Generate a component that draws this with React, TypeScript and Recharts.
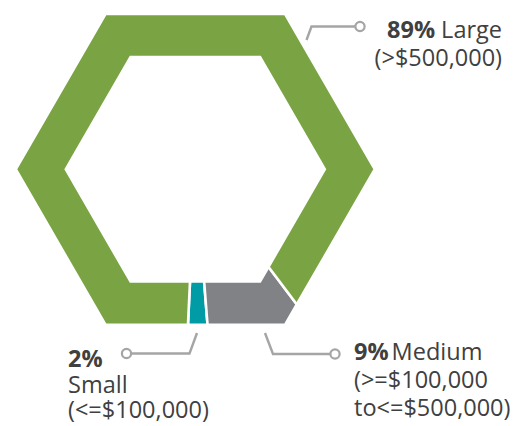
import React from "react";
import { PieChart, Pie, Cell } from "recharts";

// company size split, in percent
const segments = ["Small", "Medium", "Large"];
const shares = [2, 9, 89];
const ranges = [["(<=$100,000)"], ["(>=$100,000", "to<=$500,000)"], ["(>$500,000)"]];
const colors = ["#009CA6", "#818286", "#7AA443"];

const data = segments.map((name, i) => ({ name, value: shares[i] }));

// callout placement for each segment (same order as segments)
const callouts = [
  { path: [[197, 333], [189.5, 353.5], [131.5, 353.5]], dot: [126.5, 353.5], x: 68, y: 367, lh: 25.5, anchor: "start", nameOwnLine: true },
  { path: [[265, 333], [273, 354], [330, 354]], dot: [335, 354], x: 354, y: 360, lh: 28, anchor: "start", nameOwnLine: false },
  { path: [[306.5, 40], [311.5, 26.5], [355, 26.5]], dot: [360, 26.5], x: 502, y: 38, lh: 28, anchor: "end", nameOwnLine: false },
];

const RAD = Math.PI / 180;
const TEXT = "#404040";
const LEADER = "#A5A5A7";

// distance from centre to a hexagon edge (vertices at 0, 60, ... deg)
const hexRadius = (R: number, deg: number) => {
  const a = ((deg % 60) + 60) % 60;
  return (R * Math.cos(30 * RAD)) / Math.cos((a - 30) * RAD);
};

const hexPoint = (cx: number, cy: number, R: number, deg: number) => {
  const r = hexRadius(R, deg);
  return [cx + r * Math.cos(deg * RAD), cy - r * Math.sin(deg * RAD)];
};

const HexSector = (props: any) => {
  const { cx, cy, innerRadius, outerRadius, startAngle, endAngle, fill } = props;
  const lo = Math.min(startAngle, endAngle);
  const hi = Math.max(startAngle, endAngle);
  const angles = [lo];
  for (let v = Math.ceil(lo / 60) * 60; v < hi; v += 60) {
    if (v > lo) angles.push(v);
  }
  angles.push(hi);
  const outer = angles.map((a) => hexPoint(cx, cy, outerRadius, a));
  const inner = angles
    .slice()
    .reverse()
    .map((a) => hexPoint(cx, cy, innerRadius, a));
  const d = "M" + [...outer, ...inner].map((p) => p.join(",")).join("L") + "Z";
  const edge = (a: number) => {
    const p1 = hexPoint(cx, cy, innerRadius - 1, a);
    const p2 = hexPoint(cx, cy, outerRadius + 1, a);
    return <line x1={p1[0]} y1={p1[1]} x2={p2[0]} y2={p2[1]} stroke="#fff" strokeWidth={2.6} />;
  };
  return (
    <g>
      <path d={d} fill={fill} />
      {edge(lo)}
      {edge(hi)}
    </g>
  );
};

const renderCallout = (props: any) => {
  const i = props.index;
  const c = callouts[i];
  if (!c) return null;
  const pct = `${shares[i]}%`;
  const pts = c.path.map((p) => p.join(",")).join(" ");
  const rows: React.ReactNode[] = [];
  if (c.nameOwnLine) {
    rows.push(
      <tspan key="p" x={c.x} y={c.y} fontWeight={700}>
        {pct}
      </tspan>
    );
    rows.push(
      <tspan key="n" x={c.x} dy={c.lh}>
        {segments[i]}
      </tspan>
    );
  } else {
    rows.push(
      <tspan key="p" x={c.x} y={c.y} fontWeight={700}>
        {pct}
      </tspan>
    );
    rows.push(
      <tspan key="n" dx={c.anchor === "end" ? 6 : 3}>
        {segments[i]}
      </tspan>
    );
  }
  ranges[i].forEach((r, k) => {
    rows.push(
      <tspan key={"r" + k} x={c.x} dy={c.lh}>
        {r}
      </tspan>
    );
  });
  return (
    <g key={"callout" + i}>
      <polyline points={pts} fill="none" stroke={LEADER} strokeWidth={2.4} />
      <circle cx={c.dot[0]} cy={c.dot[1]} r={4.6} fill="#fff" stroke={LEADER} strokeWidth={2.2} />
      <text
        textAnchor={c.anchor as any}
        fill={TEXT}
        fontFamily="'Open Sans', sans-serif"
        fontSize={23.5}
      >
        {rows}
      </text>
    </g>
  );
};

export default function App() {
  return (
    <div style={{ position: "fixed", left: 0, top: 0, background: "#fff" }}>
      <PieChart width={530} height={426} margin={{ top: 0, right: 0, bottom: 0, left: 0 }}>
        <Pie
          data={data}
          dataKey="value"
          nameKey="name"
          cx={195.3}
          cy={169.3}
          innerRadius={131}
          outerRadius={178}
          startAngle={267.3}
          endAngle={627.3}
          stroke="none"
          shape={HexSector}
          label={renderCallout}
          labelLine={false}
          isAnimationActive={false}
        >
          {data.map((d, i) => (
            <Cell key={d.name} fill={colors[i]} />
          ))}
        </Pie>
      </PieChart>
    </div>
  );
}
